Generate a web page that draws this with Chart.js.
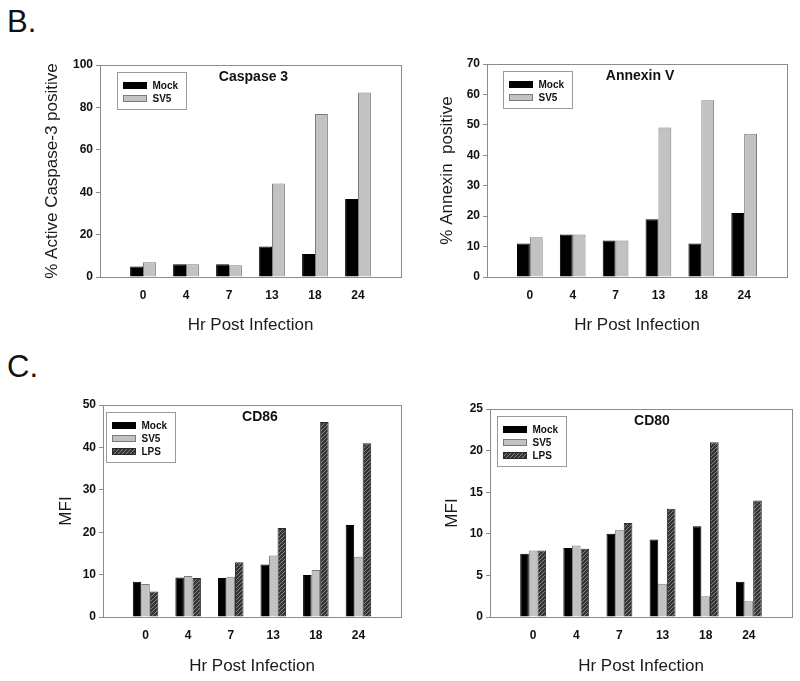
<!DOCTYPE html>
<html>
<head>
<meta charset="utf-8">
<script src="https://cdn.jsdelivr.net/npm/chart.js@4.4.1/dist/chart.umd.min.js"></script>
<style>
  body { margin: 0; background: #fff; }
  #wrap { position: relative; width: 800px; height: 681px; overflow: hidden; background: #fff; font-family: 'Liberation Sans', Arial, sans-serif; }
  .panel { position: absolute; }
  .tag { position: absolute; font-size: 31px; line-height: 1; color: #111; }
</style>
</head>
<body>
<div id="wrap">
  <div class="tag" style="left:7px;top:6px">B.</div>
  <div class="tag" style="left:7px;top:351px">C.</div>
  <div class="panel" style="left:0;top:0;width:410px;height:340px"><canvas id="c1"></canvas></div>
  <div class="panel" style="left:400px;top:0;width:400px;height:340px"><canvas id="c2"></canvas></div>
  <div class="panel" style="left:0;top:340px;width:410px;height:341px"><canvas id="c3"></canvas></div>
  <div class="panel" style="left:400px;top:340px;width:400px;height:341px"><canvas id="c4"></canvas></div>
</div>
<script>
// hours post infection
const hours = ['0', '4', '7', '13', '18', '24']

// B. caspase 3 (% positive)
const caspaseMock = [4.9, 6, 6, 14.4, 10.9, 36.8]
const caspaseSV5 = [7, 6, 5.6, 44.1, 76.9, 87]

// B. annexin V (% positive)
const annexinMock = [11, 14, 12, 19, 11, 21]
const annexinSV5 = [13.1, 14, 12, 49.1, 58.1, 47.1]

// C. CD86 MFI
const cd86Mock = [8.3, 9.3, 9.2, 12.4, 9.9, 21.7]
const cd86SV5 = [7.8, 9.65, 9.5, 14.5, 11.1, 14.2]
const cd86LPS = [6.0, 9.2, 12.9, 21.0, 46, 41]

// C. CD80 MFI
const cd80Mock = [7.6, 8.3, 10.0, 9.3, 10.9, 4.25]
const cd80SV5 = [8.0, 8.6, 10.5, 4.0, 2.5, 1.9]
const cd80LPS = [8.0, 8.2, 11.3, 13.0, 21.0, 14.0]

const FONT = "'Liberation Sans', Arial, sans-serif"

// empty slots at both ends so the first/last groups sit one step in from the frame
const labels = ['', ...hours, '']
const pad = (arr) => [null, ...arr, null]

function makeHatch() {
  const c = document.createElement('canvas')
  c.width = 4; c.height = 4
  const g = c.getContext('2d')
  g.fillStyle = '#353535'
  g.fillRect(0, 0, 4, 4)
  g.strokeStyle = '#848484'
  g.lineWidth = 1
  g.beginPath()
  g.moveTo(0, 4); g.lineTo(4, 0)
  g.moveTo(-1, 1); g.lineTo(1, -1)
  g.moveTo(3, 5); g.lineTo(5, 3)
  g.stroke()
  return g.createPattern(c, 'repeat')
}
const hatch = makeHatch()

const styles = {
  Mock: { backgroundColor: '#000', borderColor: '#000' },
  SV5: { backgroundColor: '#c2c2c2', borderColor: '#7c7c7c' },
  LPS: { backgroundColor: hatch, borderColor: '#2a2a2a' },
}

function ds(name, values) {
  return {
    label: name,
    data: pad(values),
    borderWidth: 1,
    ...styles[name],
  }
}

// frame, inner title and boxed legend
const decor = {
  id: 'decor',
  afterDatasetsDraw(chart, args, opts) {
    const { ctx, chartArea: a } = chart
    ctx.save()
    ctx.strokeStyle = '#8c8c8c'
    ctx.lineWidth = 1
    ctx.strokeRect(Math.round(a.left) + 0.5, Math.round(a.top) + 0.5, Math.round(a.width), Math.round(a.height))

    ctx.fillStyle = '#111'
    ctx.font = 'bold 14px ' + FONT
    ctx.textAlign = 'center'
    ctx.textBaseline = 'middle'
    ctx.fillText(opts.text, a.left + a.width / 2 + opts.titleDx, a.top + 12)

    const sets = chart.data.datasets
    const bx = Math.round(a.left + opts.legendDx) + 0.5
    const by = Math.round(a.top + 7) + 0.5
    const bw = 69
    const bh = 13 * sets.length + 11
    ctx.fillStyle = '#fff'
    ctx.fillRect(bx, by, bw, bh)
    ctx.strokeStyle = '#9a9a9a'
    ctx.strokeRect(bx, by, bw, bh)
    ctx.font = 'bold 10px ' + FONT
    ctx.textAlign = 'left'
    sets.forEach((d, i) => {
      const cy = by + 13 + 13 * i
      ctx.fillStyle = d.backgroundColor
      ctx.fillRect(bx + 6, cy - 3, 23, 6)
      ctx.strokeStyle = d.borderColor
      ctx.strokeRect(bx + 6, cy - 3, 23, 6)
      ctx.fillStyle = '#111'
      ctx.fillText(d.label, bx + 35, cy + 0.5)
    })
    ctx.restore()
  },
}

function panel(id, cfg) {
  return new Chart(document.getElementById(id), {
    type: 'bar',
    data: { labels: labels, datasets: cfg.datasets },
    plugins: [decor],
    options: {
      responsive: true,
      maintainAspectRatio: false,
      animation: false,
      layout: { padding: cfg.padding },
      categoryPercentage: 0.6,
      barPercentage: 1.0,
      plugins: {
        legend: { display: false },
        tooltip: { enabled: false },
        decor: { text: cfg.title, titleDx: cfg.titleDx, legendDx: cfg.legendDx },
      },
      scales: {
        x: {
          offset: false,
          grid: { display: false },
          border: { display: false },
          ticks: {
            autoSkip: false,
            maxRotation: 0,
            padding: 3,
            color: '#111',
            font: { family: FONT, size: 12, weight: 'bold' },
          },
          title: {
            display: true,
            text: 'Hr Post Infection',
            color: '#1a1a1a',
            font: { family: FONT, size: 17 },
          },
          afterFit: (s) => { s.height = cfg.xHeight },
        },
        y: {
          min: 0,
          max: cfg.max,
          grid: { drawOnChartArea: false, tickLength: 4, color: '#8c8c8c' },
          border: { display: false },
          ticks: {
            stepSize: cfg.step,
            padding: 3,
            color: '#111',
            font: { family: FONT, size: 12, weight: 'bold' },
          },
          title: {
            display: true,
            text: cfg.yTitle,
            color: '#1a1a1a',
            font: { family: FONT, size: 17 },
          },
          afterFit: (s) => { s.width = cfg.yWidth },
        },
      },
    },
  })
}

panel('c1', {
  datasets: [ds('Mock', caspaseMock), ds('SV5', caspaseSV5)],
  padding: { left: 38, right: 9, top: 65, bottom: 0 },
  yWidth: 62, xHeight: 63, max: 100, step: 20,
  yTitle: '% Active Caspase-3 positive',
  title: 'Caspase 3', titleDx: 3, legendDx: 17,
})

panel('c2', {
  datasets: [ds('Mock', annexinMock), ds('SV5', annexinSV5)],
  padding: { left: 33, right: 13, top: 64, bottom: 0 },
  yWidth: 54, xHeight: 63, max: 70, step: 10,
  yTitle: '% Annexin  positive',
  title: 'Annexin V', titleDx: 3, legendDx: 16,
})

panel('c3', {
  datasets: [ds('Mock', cd86Mock), ds('SV5', cd86SV5), ds('LPS', cd86LPS)],
  padding: { left: 52, right: 9, top: 65, bottom: 0 },
  yWidth: 51, xHeight: 64, max: 50, step: 10,
  yTitle: 'MFI',
  title: 'CD86', titleDx: 8, legendDx: 3,
})

panel('c4', {
  datasets: [ds('Mock', cd80Mock), ds('SV5', cd80SV5), ds('LPS', cd80LPS)],
  padding: { left: 38, right: 8, top: 69, bottom: 0 },
  yWidth: 52, xHeight: 64, max: 25, step: 5,
  yTitle: 'MFI',
  title: 'CD80', titleDx: 11, legendDx: 7,
})
</script>
</body>
</html>
